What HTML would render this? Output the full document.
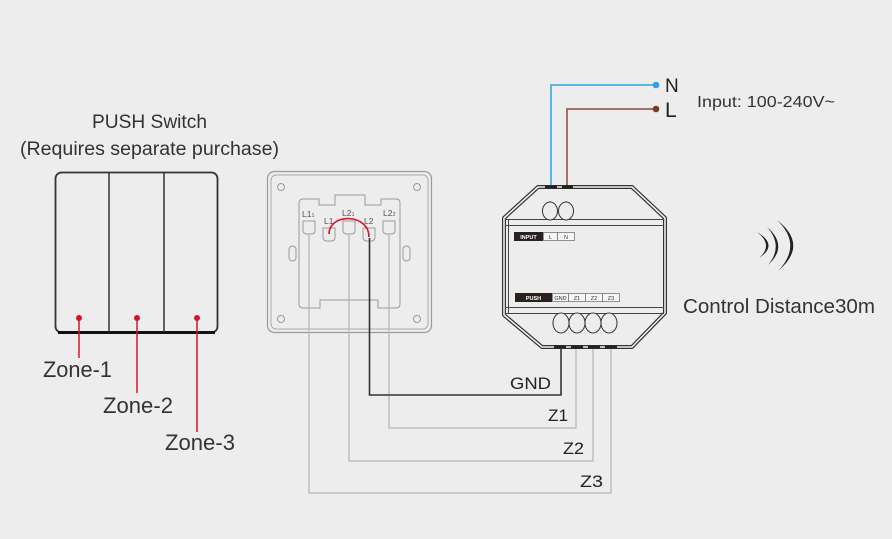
<!DOCTYPE html>
<html>
<head>
<meta charset="utf-8">
<style>
html,body{margin:0;padding:0;background:#ededed;}
svg{display:block;}
text{font-family:"Liberation Sans",sans-serif;}
</style>
</head>
<body>
<svg width="892" height="539" viewBox="0 0 892 539" xmlns="http://www.w3.org/2000/svg">
<rect x="0" y="0" width="892" height="539" fill="#ededed"/>

<!-- PUSH switch titles -->
<text x="92" y="128" font-size="19" fill="#333" textLength="115" lengthAdjust="spacingAndGlyphs">PUSH Switch</text>
<text x="20" y="155" font-size="19" fill="#333" textLength="259" lengthAdjust="spacingAndGlyphs">(Requires separate purchase)</text>

<!-- left switch -->
<rect x="55.5" y="172.5" width="162" height="160" rx="6" fill="#ededed" stroke="#333" stroke-width="1.8"/>
<line x1="58" y1="332.5" x2="215" y2="332.5" stroke="#111" stroke-width="3"/>
<line x1="109" y1="173" x2="109" y2="332" stroke="#333" stroke-width="1.5"/>
<line x1="164" y1="173" x2="164" y2="332" stroke="#333" stroke-width="1.5"/>
<g stroke="#d7142a" stroke-width="1.5">
<line x1="79" y1="318" x2="79" y2="358"/>
<line x1="137" y1="318" x2="137" y2="393"/>
<line x1="197" y1="318" x2="197" y2="432"/>
</g>
<g fill="#d7142a">
<circle cx="79" cy="318" r="3"/>
<circle cx="137" cy="318" r="3"/>
<circle cx="197" cy="318" r="3"/>
</g>
<text x="43" y="377" font-size="22" fill="#333" textLength="69" lengthAdjust="spacingAndGlyphs">Zone-1</text>
<text x="103" y="413" font-size="22" fill="#333" textLength="70" lengthAdjust="spacingAndGlyphs">Zone-2</text>
<text x="165" y="450" font-size="22" fill="#333" textLength="70" lengthAdjust="spacingAndGlyphs">Zone-3</text>

<!-- wall plate -->
<rect x="267.5" y="171.5" width="164" height="161" rx="7" fill="#ededed" stroke="#9a9a9a" stroke-width="1.2"/>
<rect x="271" y="175" width="157" height="154" rx="5" fill="none" stroke="#ababab" stroke-width="1"/>
<g fill="none" stroke="#9a9a9a" stroke-width="1">
<circle cx="281" cy="187" r="3.5"/>
<circle cx="417" cy="187" r="3.5"/>
<circle cx="281" cy="319" r="3.5"/>
<circle cx="417" cy="319" r="3.5"/>
<rect x="289" y="246" width="7" height="15" rx="3.5"/>
<rect x="403" y="246" width="7" height="15" rx="3.5"/>
<path d="M299,203 Q299,199 303,199 L319,199 L319,205 L335,205 L335,195 L365,195 L365,205 L381,205 L381,199 L396,199 Q400,199 400,203 L400,304 Q400,308 396,308 L378,308 L378,300 L320,300 L320,308 L303,308 Q299,308 299,304 Z"/>
<path d="M303,221 L303,230 Q303,234 307,234 L311,234 Q315,234 315,230 L315,221 Z"/>
<path d="M323,228 L323,237 Q323,241 327,241 L331,241 Q335,241 335,237 L335,228 Z"/>
<path d="M343,221 L343,230 Q343,234 347,234 L351,234 Q355,234 355,230 L355,221 Z"/>
<path d="M363,228 L363,237 Q363,241 367,241 L371,241 Q375,241 375,237 L375,228 Z"/>
<path d="M383,221 L383,230 Q383,234 387,234 L391,234 Q395,234 395,230 L395,221 Z"/>
</g>
<g font-size="8.5" fill="#555">
<text x="302" y="217">L1<tspan font-size="5.5">1</tspan></text>
<text x="324" y="224">L1</text>
<text x="342" y="216">L2<tspan font-size="5.5">1</tspan></text>
<text x="364" y="224">L2</text>
<text x="383" y="216">L2<tspan font-size="5.5">2</tspan></text>
</g>

<!-- wires -->
<g fill="none" stroke="#b8b8b8" stroke-width="1.3">
<path d="M309,234 V493 H611 V348"/>
<path d="M349,234 V461 H593 V348"/>
<path d="M389,234 V428 H576 V348"/>
</g>
<path d="M369.5,238 V395 H561 V348" fill="none" stroke="#333" stroke-width="1.6"/>
<path d="M329,234 C329,213 369,213 369,237" fill="none" stroke="#d7142a" stroke-width="1.6"/>

<text x="510" y="389" font-size="17" fill="#222" textLength="41" lengthAdjust="spacingAndGlyphs">GND</text>
<text x="548" y="421" font-size="17" fill="#222" textLength="20" lengthAdjust="spacingAndGlyphs">Z1</text>
<text x="563" y="454" font-size="17" fill="#222" textLength="21" lengthAdjust="spacingAndGlyphs">Z2</text>
<text x="580" y="487" font-size="17" fill="#222" textLength="23" lengthAdjust="spacingAndGlyphs">Z3</text>

<!-- N / L input -->
<path d="M551,187 V85 H656" fill="none" stroke="#2aa3e2" stroke-width="1.5"/>
<circle cx="656" cy="85" r="3.3" fill="#2aa3e2"/>
<path d="M567,187 V109 H656" fill="none" stroke="#8a4a3c" stroke-width="1.5"/>
<circle cx="656" cy="109" r="3.3" fill="#7a3b2e"/>
<text x="665" y="92" font-size="19" fill="#222">N</text>
<text x="665" y="117" font-size="21" fill="#222">L</text>
<text x="697" y="107" font-size="16" fill="#333" textLength="138" lengthAdjust="spacingAndGlyphs">Input: 100-240V~</text>

<!-- module -->
<path d="M538,187 L632,187 L665,218 L665,313 L632,347 L542,347 L504,315 L504,218 Z" fill="#ededed" stroke="#333" stroke-width="4" stroke-linejoin="round"/>
<path d="M538,187 L632,187 L665,218 L665,313 L632,347 L542,347 L504,315 L504,218 Z" fill="none" stroke="#f0f0f0" stroke-width="1.6" stroke-linejoin="round"/>
<g stroke="#444" stroke-width="1">
<line x1="505" y1="219.5" x2="664" y2="219.5"/>
<line x1="505" y1="225.5" x2="664" y2="225.5"/>
<line x1="505" y1="307.5" x2="664" y2="307.5"/>
<line x1="505" y1="313.5" x2="664" y2="313.5"/>
<line x1="508.5" y1="220" x2="508.5" y2="313"/>
</g>
<g fill="#222">
<rect x="545" y="185.5" width="12" height="3"/>
<rect x="562" y="185.5" width="11" height="3"/>
<rect x="554" y="345.5" width="12" height="3"/>
<rect x="571" y="345.5" width="12" height="3"/>
<rect x="588" y="345.5" width="12" height="3"/>
<rect x="605" y="345.5" width="12" height="3"/>
</g>
<g fill="#ededed" stroke="#333" stroke-width="1">
<ellipse cx="550" cy="211" rx="7.5" ry="9"/>
<ellipse cx="566" cy="211" rx="7.5" ry="9"/>
<ellipse cx="561" cy="323" rx="8" ry="10"/>
<ellipse cx="577" cy="323" rx="8" ry="10"/>
<ellipse cx="593" cy="323" rx="8" ry="10"/>
<ellipse cx="609" cy="323" rx="8" ry="10"/>
</g>
<rect x="514" y="232" width="29" height="9" fill="#2b2020"/>
<rect x="543.5" y="232.5" width="14" height="8" fill="#f5f5f5" stroke="#777" stroke-width="0.8"/>
<rect x="557.5" y="232.5" width="17" height="8" fill="#f5f5f5" stroke="#777" stroke-width="0.8"/>
<text x="528.5" y="239" font-size="5.5" font-weight="bold" fill="#fff" text-anchor="middle">INPUT</text>
<text x="550.5" y="239" font-size="5.5" fill="#333" text-anchor="middle">L</text>
<text x="566" y="239" font-size="5.5" fill="#333" text-anchor="middle">N</text>

<rect x="515" y="293" width="37" height="9" fill="#2b2020"/>
<rect x="552.5" y="293.5" width="16" height="8" fill="#f5f5f5" stroke="#777" stroke-width="0.8"/>
<rect x="568.5" y="293.5" width="17" height="8" fill="#f5f5f5" stroke="#777" stroke-width="0.8"/>
<rect x="585.5" y="293.5" width="17" height="8" fill="#f5f5f5" stroke="#777" stroke-width="0.8"/>
<rect x="602.5" y="293.5" width="17" height="8" fill="#f5f5f5" stroke="#777" stroke-width="0.8"/>
<text x="533.5" y="300" font-size="5.5" font-weight="bold" fill="#fff" text-anchor="middle">PUSH</text>
<text x="560.5" y="300" font-size="5.5" fill="#333" text-anchor="middle">GND</text>
<text x="577" y="300" font-size="5.5" fill="#333" text-anchor="middle">Z1</text>
<text x="594" y="300" font-size="5.5" fill="#333" text-anchor="middle">Z2</text>
<text x="611" y="300" font-size="5.5" fill="#333" text-anchor="middle">Z3</text>

<!-- wireless -->
<g fill="#222">
<path d="M757,232 Q779,245 759,258 Q774,245 757,232 Z"/>
<path d="M767,227 Q789,246 768,265 Q784,246 767,227 Z"/>
<path d="M777,220 Q809,245 778,271 Q803,245 777,220 Z"/>
</g>
<text x="683" y="313" font-size="20" fill="#333" textLength="192" lengthAdjust="spacingAndGlyphs">Control Distance30m</text>
</svg>
</body>
</html>
